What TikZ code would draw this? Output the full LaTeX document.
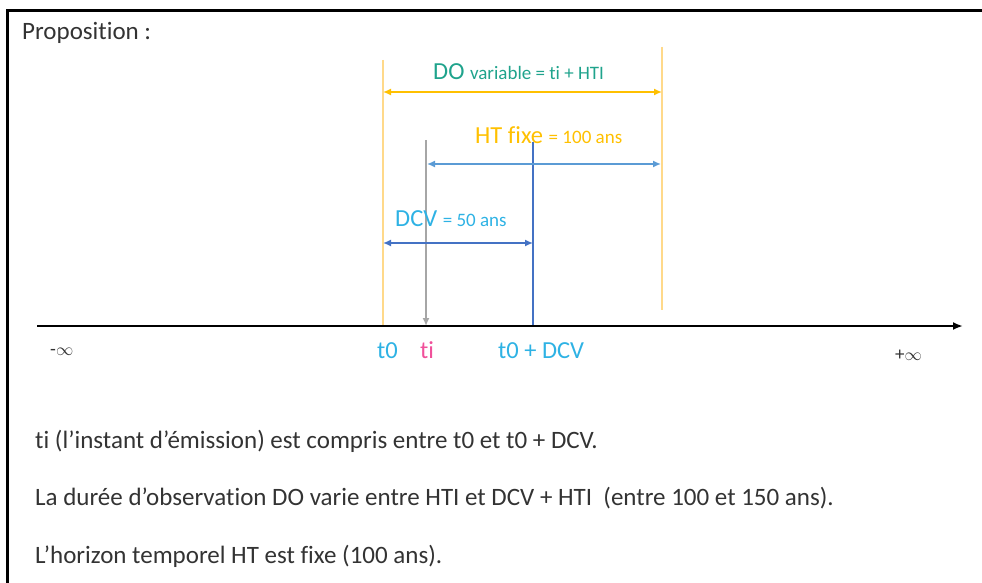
\documentclass[tikz,border=0pt]{standalone}
\usepackage{fontspec}
\setmainfont{Carlito}[Ligatures=NoCommon]
\usetikzlibrary{arrows.meta}

\definecolor{gold}{HTML}{FFC000}
\definecolor{paleGold}{HTML}{FFD98A}
\definecolor{lineBlue}{HTML}{4472C4}
\definecolor{softBlue}{HTML}{5B9BD5}
\definecolor{skyText}{HTML}{2EB2E4}
\definecolor{pinkText}{HTML}{F0509A}
\definecolor{doGreen}{HTML}{1FA38C}
\definecolor{darkText}{HTML}{333333}
\definecolor{tiGray}{HTML}{A6A6A6}
\newcommand{\petit}{\fontsize{19}{22}\selectfont}

\begin{document}
\begin{tikzpicture}[x=1pt,y=-1pt,
	txt/.style={anchor=base west,inner sep=0pt,text=darkText,font=\fontsize{25}{29}\selectfont},
	lbl/.style={anchor=base west,inner sep=0pt,font=\fontsize{24.5}{28}\selectfont},
	smalllbl/.style={font=\petit},
	tip/.style={-{Latex[length=8pt,width=7pt]}},
	dtip/.style={{Latex[length=8pt,width=7pt]}-{Latex[length=8pt,width=7pt]}}]

\useasboundingbox (0,0) rectangle (982,583);
\draw [line width=3pt] (7,583) -- (7,11) -- (982,11);

\node[txt] (prop) at (22,40) {Proposition :};

% axe du temps
\coordinate (A) at (37,326);
\coordinate (B) at (963,326);
\coordinate (T0) at (383,326);
\coordinate (TI) at (426,326);
\coordinate (TD) at (533,326);
\coordinate (TH) at (662,326);

% reperes verticaux
\coordinate (T0top) at (383,60);
\coordinate (THtop) at (662,47);
\coordinate (THbot) at (662,310);
\coordinate (TItop) at (426,140);
\coordinate (TDtop) at (533,142);
\draw [paleGold, line width=1.5pt] (T0top) -- (T0);
\draw [paleGold, line width=1.5pt] (THtop) -- (THbot);
\draw [tiGray, line width=2.5pt, tip] (TItop) -- (TI);
\draw [lineBlue, line width=1.3pt] (TDtop) -- (TD);
\draw [line width=2pt, -{Latex[length=10pt,width=8pt]}] (A) -- (B);

% fleches de duree
\coordinate (DOa) at (383,92);
\coordinate (DOb) at (662,92);
\coordinate (HTa) at (427,164);
\coordinate (HTb) at (661,164);
\coordinate (DCa) at (383,243);
\coordinate (DCb) at (533,243);
\draw [gold, line width=1.5pt, dtip] (DOa) -- (DOb);
\draw [softBlue, line width=1.5pt, dtip] (HTa) -- (HTb);
\draw [lineBlue, line width=1.5pt, dtip] (DCa) -- (DCb);

\node[lbl, text=doGreen] (doLbl) at (433,80) {DO {\petit variable = ti + HTI}};
\node[lbl, text=gold] (htLbl) at (475,143) {HT fixe {\petit = 100 ans}};
\node[lbl, text=skyText] (dcvLbl) at (395,226) {DCV {\petit = 50 ans}};

% etiquettes sous l'axe
\node[lbl, text=darkText, smalllbl] (minf) at (50,355) {-\(\infty\)};
\node[lbl, text=skyText] (t0Lbl) at (377,358) {t0};
\node[lbl, text=pinkText] (tiLbl) at (420,358) {ti};
\node[lbl, text=skyText] (tdLbl) at (498,358) {t0 + DCV};
\node[lbl, text=darkText, smalllbl] (pinf) at (895,360) {+\(\infty\)};

% commentaires
\node[txt] (l1) at (35,448) {ti (l’instant d’émission) est compris entre t0 et t0 + DCV.};
\node[txt] (l2) at (35,505) {La durée d’observation DO varie entre HTI et DCV + HTI\ \ (entre 100 et 150 ans).};
\node[txt] (l3) at (35,563) {L’horizon temporel HT est fixe (100 ans).};

\end{tikzpicture}
\end{document}
